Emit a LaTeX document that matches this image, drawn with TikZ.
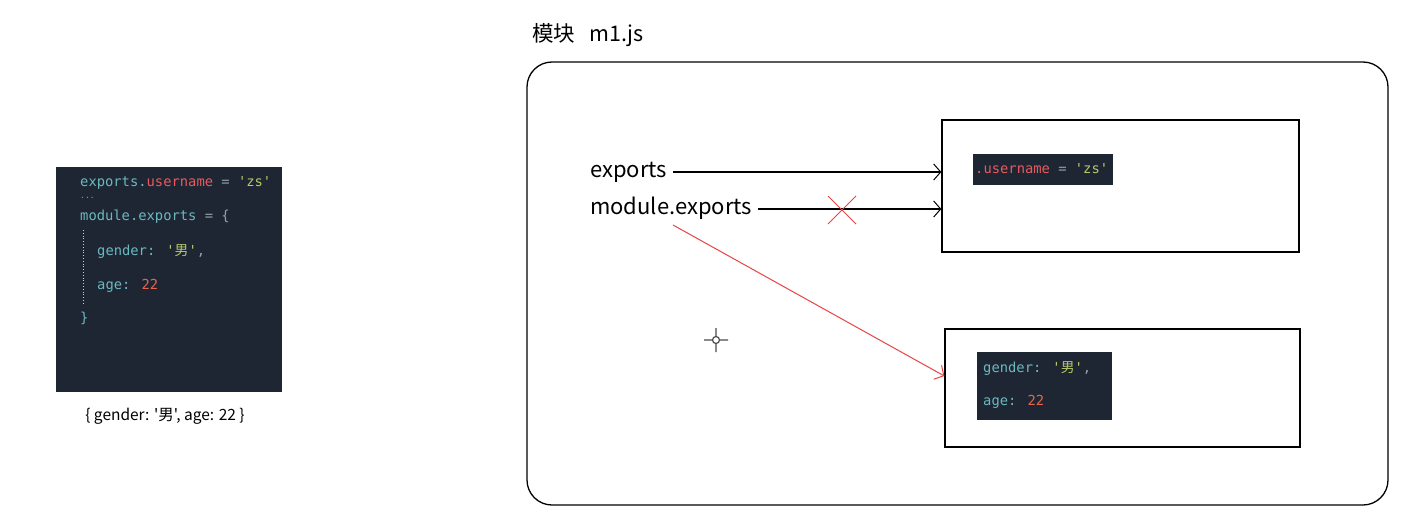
\documentclass[tikz,border=0pt]{standalone}
\usepackage{fontspec}
\setmainfont{Noto Sans CJK SC}
\newfontfamily\codefont{DejaVu Sans Mono}
\newfontfamily\cjk{Noto Sans CJK SC}
\newfontfamily\capfont{Noto Sans CJK SC}[Ligatures=TeXOff]
\usetikzlibrary{arrows.meta}

\definecolor{codebg}{HTML}{1E2633}
\definecolor{codecyan}{HTML}{6CB8BF}
\definecolor{codered}{HTML}{E85A5F}
\definecolor{codegreen}{HTML}{B8C96A}
\definecolor{codeop}{HTML}{8FA3A8}
\definecolor{codenum}{HTML}{E8654F}
\definecolor{xred}{HTML}{E84444}

\newcommand{\nan}{{\cjk 男}}

\tikzset{
  codeline/.style={anchor=west, inner sep=0pt, font=\codefont\fontsize{13.8}{16}\selectfont,
    text height=10pt, text depth=3pt},
  codebox/.style={fill=codebg, inner sep=0pt},
  refbox/.style={draw, line width=1.3pt, inner sep=0pt},
  varlabel/.style={anchor=west, inner sep=0pt, font=\fontsize{22}{25}\selectfont,
    text height=15pt, text depth=4pt},
  ptr/.style={line width=1.2pt, -{Straight Barb[length=7pt,width=16pt,line width=1pt]}},
}

\begin{document}
\begin{tikzpicture}[x=1pt,y=-1pt]
\useasboundingbox[fill=white] (0,0) rectangle (1402,524);

% code on the left
\fill[codebg] (56,167) rectangle (282,392);
\draw[codeop!50, dotted, line width=0.8pt] (83,230) -- (83,304);
\node[codeline] (c1) at (80,183) {\color{codecyan}exports.\color{codered}username\color{codeop}\ =\ \color{codegreen}'zs'};
\node[codeline, font=\codefont\fontsize{8}{8}\selectfont, text=codeop] (c2) at (80,195) {...};
\node[codeline] (c3) at (80,217) {\color{codecyan}module.exports\color{codeop}\ = \{};
\node[codeline] (c4) at (97,252) {\color{codecyan}gender: \color{codegreen}'\nan'\color{codeop},};
\node[codeline] (c5) at (97,286) {\color{codecyan}age: \color{codenum}22};
\node[codeline] (c6) at (80,319) {\color{codecyan}\}};
\node[font=\capfont\fontsize{15.5}{18}\selectfont, inner sep=0pt] (result) at (165,416) {\{ gender: '男', age: 22 \}};

% module m1.js
\node[anchor=west, inner sep=0pt, font=\fontsize{21.5}{24}\selectfont] (title) at (532,35) {模块\hspace{14pt}m1.js};
\draw[line width=1.3pt, rounded corners=25pt] (527,62) rectangle (1388,505);

\node[refbox, minimum width=357pt, minimum height=132pt] (ref1) at (1120.5,186) {};
\node[codebox, minimum width=140pt, minimum height=31pt] (obj1) at (1043,169.5) {};
\node[codeline] at (975,170) {\color{codered}.username\color{codeop}\ =\ \color{codegreen}'zs'};

\node[refbox, minimum width=355pt, minimum height=118pt] (ref2) at (1122.5,388) {};
\node[codebox, minimum width=135pt, minimum height=68pt] (obj2) at (1044.5,386) {};
\node[codeline] at (983,369) {\color{codecyan}gender: \color{codegreen}'\nan'\color{codeop},};
\node[codeline] at (983,402) {\color{codecyan}age: \color{codenum}22};

\node[varlabel] (exp) at (590,172) {exports};
\node[varlabel] (mexp) at (590,209) {module.exports};

\draw[ptr, shorten <=6pt] (exp.east) -- (exp.east -| ref1.west);
\draw[ptr, shorten <=6pt] (mexp.east) -- (mexp.east -| ref1.west);

% the old link is cut
\coordinate (cut) at (842,210);
\draw[xred, line width=1pt] (cut) ++(-14,-14) -- ++(28,28) (cut) ++(14,-14) -- ++(-28,28);

% the new link
\coordinate (redstart) at (673,225);
\coordinate (redend) at (ref2.west |- 0,376);
\draw[ptr, xred, line width=1pt] (redstart) -- (redend);

% mouse cursor
\coordinate (cursor) at (716,340);
\draw[black!70, line width=1.2pt] (cursor) circle (3.5pt)
  (cursor) ++(0,-12) -- ++(0,8) (cursor) ++(0,4) -- ++(0,8)
  (cursor) ++(-12,0) -- ++(8,0) (cursor) ++(4,0) -- ++(8,0);
\end{tikzpicture}
\end{document}
